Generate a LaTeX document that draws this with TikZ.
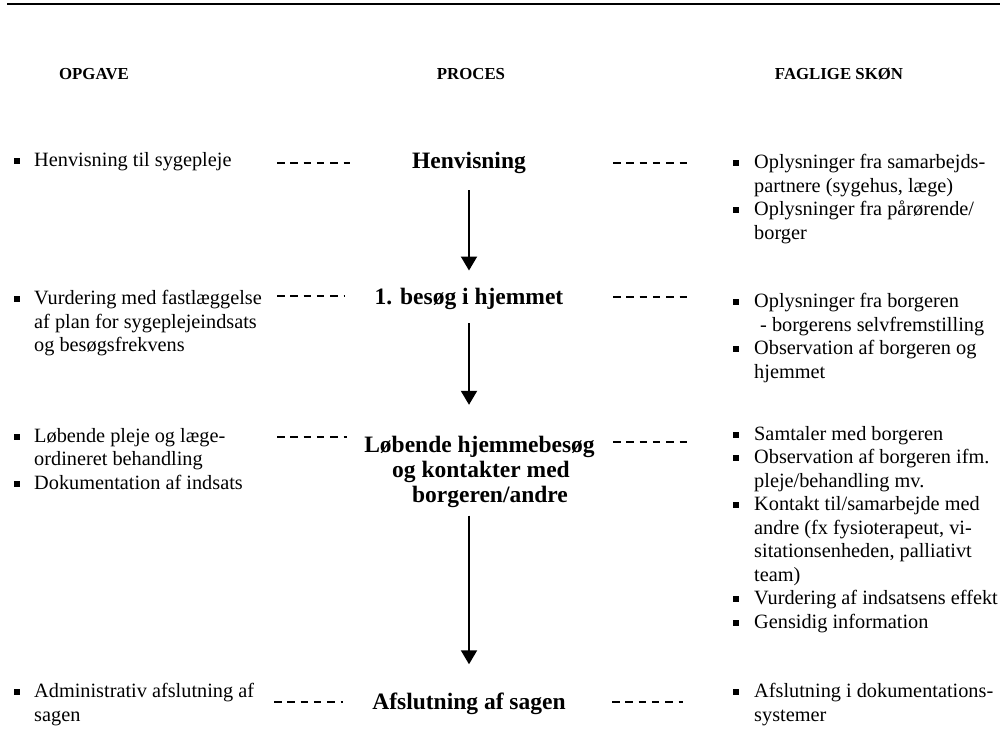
\documentclass[tikz,border=0pt]{standalone}
\usepackage{fontspec}
\setmainfont{Liberation Serif}
\usetikzlibrary{arrows.meta}

% square bullet and hanging bullet helpers
\newcommand{\bsq}{\rule[2.6pt]{6pt}{6pt}}
\newcommand{\lbul}{\llap{\bsq\hspace{14pt}}}
\newcommand{\rbul}{\llap{\bsq\hspace{15pt}}}

\begin{document}
\begin{tikzpicture}[x=1pt,y=-1pt,
  body/.style={anchor=north west, inner sep=0pt, align=left,
               font=\fontsize{20.3}{23.5}\selectfont},
  proc/.style={inner sep=0pt, align=center,
               font=\fontsize{23.5}{25}\selectfont\bfseries},
  head/.style={anchor=base, inner sep=0pt,
               font=\fontsize{16.8}{20}\selectfont\bfseries},
  link/.style={line width=1.5pt, dash pattern=on 7.5pt off 5.8pt},
  flow/.style={line width=2pt, -{Triangle[width=16pt,length=14pt]}}]

\useasboundingbox (0,0) rectangle (1006,740);

% top rule
\draw[line width=2.6pt] (7,4) -- (1000,4);

% column headings
\node[head] (hOpg) at (94,79)  {OPGAVE};
\node[head] (hPro) at (471,79) {PROCES};
\node[head] (hFag) at (839,79) {FAGLIGE SKØN};

% process steps
\node[proc, anchor=base]  (p1) at (469,168) {Henvisning};
\node[proc, anchor=base]  (p2) at (469,304) {1. besøg i hjemmet};
\node[proc, anchor=north] (p3) at (469,435.8)
  {\hspace*{21pt}Løbende hjemmebesøg\\
   \hspace*{24pt}og kontakter med\\
   \hspace*{42pt}borgeren/andre};
\node[proc, anchor=base]  (p4) at (469,709) {Afslutning af sagen};

% flow arrows
\draw[flow, shorten <=17pt, shorten >=17pt] (p1) -- (p2);
\draw[flow, shorten <=14pt, shorten >=31pt] (p2) -- (p3);
\draw[flow, shorten <=8pt,  shorten >=28pt] (p3) -- (p4);

% tasks (left column)
\node[body] (o1) at (34,152.1) {\lbul Henvisning til sygepleje};
\node[body] (o2) at (34,290.1) {\lbul Vurdering med fastlæggelse\\
  af plan for sygeplejeindsats\\og besøgsfrekvens};
\node[body] (o3) at (34,428.1) {\lbul Løbende pleje og læge-\\
  ordineret behandling\\\lbul Dokumentation af indsats};
\node[body] (o4) at (34,683.1) {\lbul Administrativ afslutning af\\sagen};

% professional judgement (right column)
\node[body] (f1) at (754,154.1) {\rbul Oplysninger fra samarbejds-\\
  partnere (sygehus, læge)\\\rbul Oplysninger fra pårørende/\\borger};
\node[body] (f2) at (754,293.1) {\rbul Oplysninger fra borgeren\\
  \hspace*{6pt}- borgerens selvfremstilling\\
  \rbul Observation af borgeren og\\hjemmet};
\node[body] (f3) at (754,426.1) {\rbul Samtaler med borgeren\\
  \rbul Observation af borgeren ifm.\\pleje/behandling mv.\\
  \rbul Kontakt til/samarbejde med\\andre (fx fysioterapeut, vi-\\
  sitationsenheden, palliativt\\team)\\
  \rbul Vurdering af indsatsens effekt\\
  \rbul Gensidig information};
\node[body] (f4) at (754,683.1) {\rbul Afslutning i dokumentations-\\systemer};

% dashed links between columns
\coordinate (l1a) at (277,163); \coordinate (l1b) at (350,163);
\coordinate (r1a) at (613,163); \coordinate (r1b) at (687,163);
\coordinate (l2a) at (277,296); \coordinate (l2b) at (345,296);
\coordinate (r2a) at (613,297); \coordinate (r2b) at (687,297);
\coordinate (l3a) at (277,437); \coordinate (l3b) at (347,437);
\coordinate (r3a) at (613,442); \coordinate (r3b) at (688,442);
\coordinate (l4a) at (274,702); \coordinate (l4b) at (343,702);
\coordinate (r4a) at (612,702); \coordinate (r4b) at (683,702);
\foreach \s in {l1,r1,l2,r2,l3,r3,l4,r4}
  \draw[link] (\s a) -- (\s b);

\end{tikzpicture}
\end{document}
